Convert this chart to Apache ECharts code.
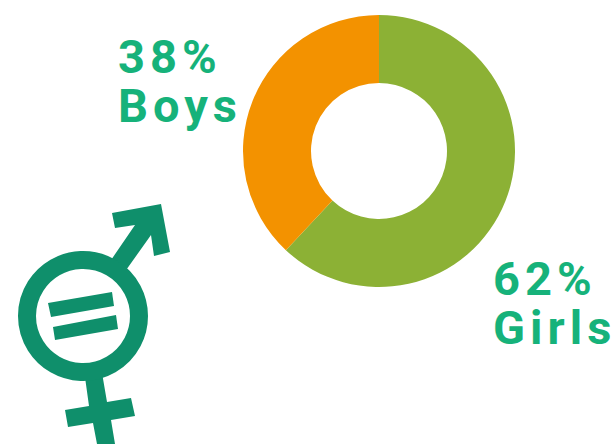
<!DOCTYPE html>
<html>
<head>
<meta charset="utf-8">
<script src="https://cdn.jsdelivr.net/npm/echarts@6/dist/echarts.min.js"></script>
<style>
    html, body { margin: 0; padding: 0; background: #fff; }
    #main { width: 615px; height: 444px; }
    /* the label text in the picture is widely spaced */
    #main svg text { letter-spacing: 5px; }
</style>
</head>
<body>
<div id="main"></div>
<script>
    var categories = ['Girls', 'Boys']
    var shares = [62, 38]
    var sliceColors = ['#8cb135', '#f39200']
    var labelSpots = [[493, 254], [118, 32]]

    var iconColor = '#0f8f6b'
    var textColor = '#16b27a'

    // gender equality icon, outlines
    var arrowShape = [[112, 213], [161, 204], [170, 252], [154, 256], [151, 235], [124, 273], [109, 263], [135, 225], [115, 228]]
    var barTop = [[48, 303], [112, 292], [114, 306], [51, 317]]
    var barBottom = [[53, 327], [116, 315], [118, 329], [55, 340]]
    var stemShape = [[84, 370], [101, 367], [107, 402], [131, 398], [135, 416], [111, 420], [115, 444], [97, 444], [93, 423], [68, 427], [65, 410], [89, 406]]

    function poly (points) {
        return { type: 'polygon', shape: { points: points }, style: { fill: iconColor } }
    }

    var chart = echarts.init(document.getElementById('main'), null, { renderer: 'svg' })
    chart.setOption({
        animation: false,
        backgroundColor: '#fff',
        graphic: [
            poly(arrowShape),
            poly(stemShape),
            {
                type: 'circle',
                shape: { cx: 83, cy: 316, r: 56 },
                style: { fill: '#fff', stroke: iconColor, lineWidth: 18 }
            },
            poly(barTop),
            poly(barBottom)
        ],
        series: [
            {
                type: 'pie',
                center: [379, 151],
                radius: [68, 136],
                startAngle: 90,
                clockwise: true,
                silent: true,
                data: categories.map(function (name, i) {
                    return { name: name, value: shares[i], itemStyle: { color: sliceColors[i] } }
                }),
                label: {
                    show: true,
                    position: 'outside',
                    formatter: '{d}%\n{b}',
                    color: textColor,
                    fontFamily: 'Roboto',
                    fontWeight: 'bold',
                    fontSize: 47,
                    lineHeight: 49,
                    align: 'left',
                    overflow: 'none',
                    width: 200
                },
                labelLine: { show: false },
                labelLayout: function (params) {
                    return {
                        x: labelSpots[params.dataIndex][0],
                        y: labelSpots[params.dataIndex][1],
                        align: 'left',
                        verticalAlign: 'top'
                    }
                }
            }
        ]
    })
</script>
</body>
</html>
